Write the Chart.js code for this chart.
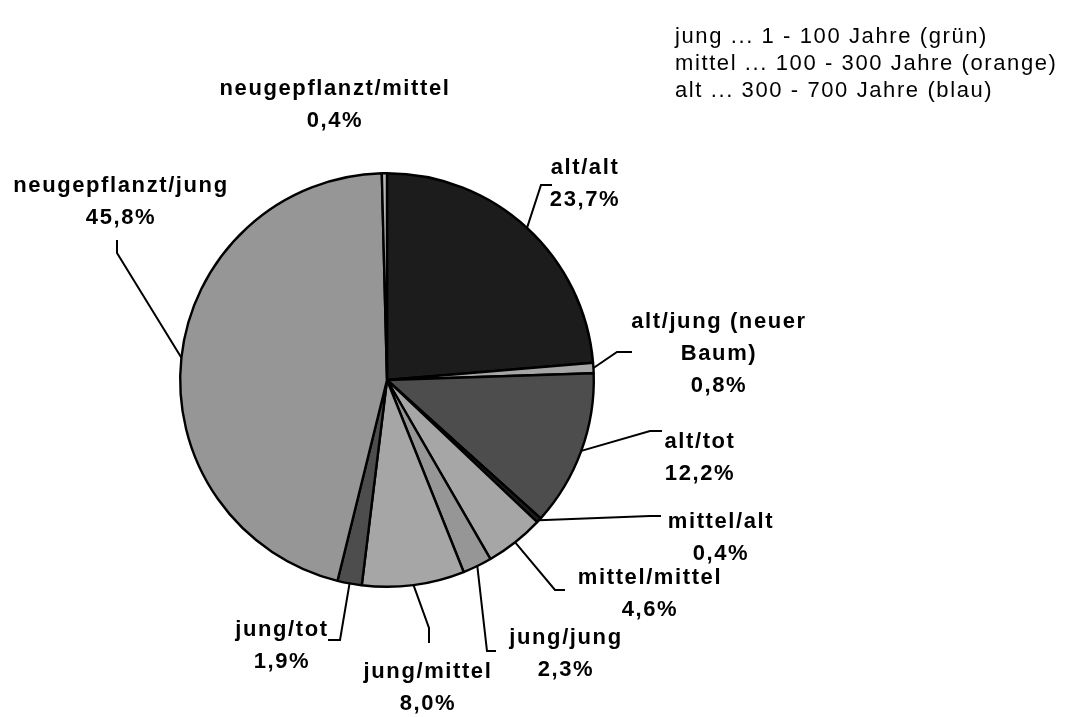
<!DOCTYPE html>
<html>
<head>
<meta charset="utf-8">
<script src="https://cdn.jsdelivr.net/npm/chart.js@4/dist/chart.umd.min.js"></script>
<style>
  body { margin: 0; background: #fff; }
  canvas { display: block; }
</style>
</head>
<body>
<canvas id="kuchen" width="1071" height="717"></canvas>
<script>
// Baumbestand nach Alter (vorher/nachher), Anteile in Prozent
const kategorien = [
    "alt/alt",
    "alt/jung (neuer Baum)",
    "alt/tot",
    "mittel/alt",
    "mittel/mittel",
    "jung/jung",
    "jung/mittel",
    "jung/tot",
    "neugepflanzt/jung",
    "neugepflanzt/mittel"
];
const anteile = [23.7, 0.8, 12.2, 0.4, 4.6, 2.3, 8.0, 1.9, 45.8, 0.4];
const farben = [
    "#1c1c1c", "#a6a6a6", "#4d4d4d", "#1c1c1c", "#a6a6a6",
    "#969696", "#a6a6a6", "#4d4d4d", "#969696", "#b4b4b4"
];
const hinweis = [
    "jung ... 1 - 100 Jahre (grün)",
    "mittel ... 100 - 300 Jahre (orange)",
    "alt ... 300 - 700 Jahre (blau)"
];

// Beschriftung: Textposition, Knick und Ende der Führungslinie (relativ zur Kreismitte)
const beschriftung = [
    { text: [197, -212], knick: [154, -195], ende: [165, -195] },
    { text: [331, -58], knick: [230, -28], ende: [245, -28], umbruch: true },
    { text: [312, 62], knick: [263, 51], ende: [275, 51] },
    { text: [333, 142], knick: [263, 136], ende: [274, 136] },
    { text: [262, 198], knick: [168, 210], ende: [178, 210] },
    { text: [178, 258], knick: [100, 271], ende: [109, 271] },
    { text: [40, 292], knick: [42, 248], ende: [42, 263] },
    { text: [-106, 250], knick: [-47, 260], ende: [-59, 260] },
    { text: [-267, -194], knick: [-270, -127], ende: [-270, -140] },
    { text: [-53, -291] }
];

const prozent = (v) => v.toFixed(1).replace(".", ",") + "%";

const beschriftungPlugin = {
    id: "beschriftung",
    afterDraw(chart) {
        const ctx = chart.ctx;
        const meta = chart.getDatasetMeta(0);
        ctx.save();

        // Hinweis oben rechts
        ctx.font = '22px "Liberation Sans", Arial, sans-serif';
        ctx.letterSpacing = "1.6px";
        ctx.fillStyle = "#000";
        ctx.textAlign = "left";
        ctx.textBaseline = "middle";
        hinweis.forEach((zeile, i) => ctx.fillText(zeile, 675, 37 + i * 27));

        ctx.font = 'bold 22px "Liberation Sans", Arial, sans-serif';
        ctx.letterSpacing = "1.6px";
        ctx.textAlign = "center";
        ctx.strokeStyle = "#000";
        ctx.lineWidth = 2;

        meta.data.forEach((arc, i) => {
            const b = beschriftung[i];
            const { x, y, startAngle, endAngle, outerRadius } = arc.getProps(
                ["x", "y", "startAngle", "endAngle", "outerRadius"], true);

            if (b.knick) {
                const mitte = (startAngle + endAngle) / 2;
                ctx.beginPath();
                ctx.moveTo(x + Math.cos(mitte) * outerRadius, y + Math.sin(mitte) * outerRadius);
                ctx.lineTo(x + b.knick[0], y + b.knick[1]);
                ctx.lineTo(x + b.ende[0], y + b.ende[1]);
                ctx.stroke();
            }

            let zeilen = [kategorien[i]];
            if (b.umbruch) {
                const pos = kategorien[i].lastIndexOf(" ");
                zeilen = [kategorien[i].slice(0, pos), kategorien[i].slice(pos + 1)];
            }
            zeilen.push(prozent(anteile[i]));
            zeilen.forEach((z, k) => ctx.fillText(z, x + b.text[0] + 1, y + b.text[1] + k * 32));
        });
        ctx.restore();
    }
};

new Chart(document.getElementById("kuchen"), {
    type: "pie",
    data: {
        labels: kategorien,
        datasets: [{
            data: anteile,
            backgroundColor: farben,
            borderColor: "#000",
            borderWidth: 2.4
        }]
    },
    options: {
        responsive: false,
        animation: false,
        layout: {
            padding: { left: 179, right: 476, top: 172, bottom: 129 }
        },
        plugins: {
            legend: { display: false },
            tooltip: { enabled: false }
        }
    },
    plugins: [beschriftungPlugin]
});
</script>
</body>
</html>
